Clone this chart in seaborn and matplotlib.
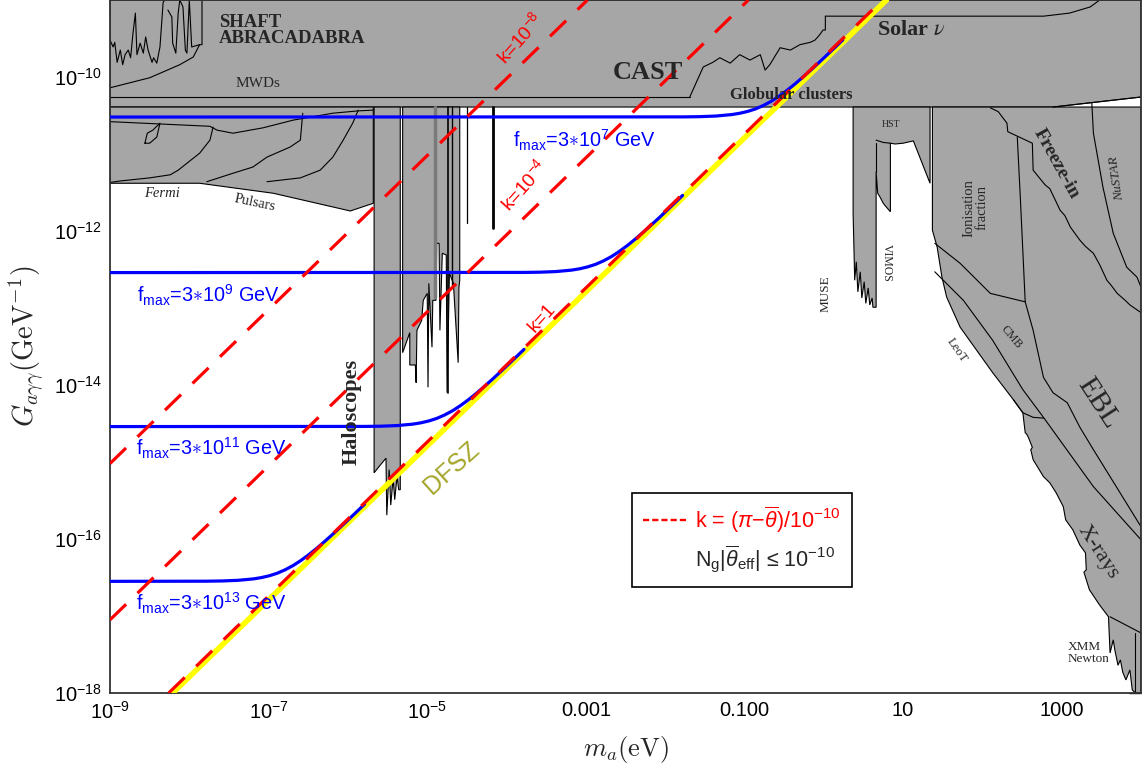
import numpy as np
import pandas as pd
import matplotlib
matplotlib.use('Agg')
import matplotlib.pyplot as plt
import seaborn as sns
from matplotlib.lines import Line2D
from matplotlib.ticker import FixedLocator, FixedFormatter, NullFormatter

sns.set_theme(style='white')
plt.rcParams['font.family'] = ['Liberation Sans', 'DejaVu Sans']
plt.rcParams['mathtext.fontset'] = 'custom'
plt.rcParams['mathtext.rm'] = 'Liberation Sans'
plt.rcParams['mathtext.it'] = 'Liberation Sans:italic'
plt.rcParams['mathtext.bf'] = 'Liberation Sans:bold'

# ---------------- data (log10 m_a [eV], log10 G [GeV^-1]) ----------------
x_ticks = [-9, -7, -5, -3, -1, 1, 3]
x_ticklabels = ['10$^{-9}$', '10$^{-7}$', '10$^{-5}$', '0.001', '0.100', '10', '1000']
y_ticks = [-10, -12, -14, -16, -18]
y_ticklabels = ['10$^{-10}$', '10$^{-12}$', '10$^{-14}$', '10$^{-16}$', '10$^{-18}$']

# straight lines: k lines and DFSZ
k_labels = ['k=10$^{-8}$', 'k=10$^{-4}$', 'k=1']
k_lm = [[-9.00, -2.98], [-9.00, -0.95], [-8.26, 0.74]]
k_lg = [[-15.02, -9.00], [-17.05, -9.00], [-18.00, -9.00]]
dfsz_lm = [-8.21, 0.79]
dfsz_lg = [-18.00, -9.00]

# f_max curves
fmax_labels = ['f$_{\\mathrm{max}}$=3$\\ast$10$^{7}$ GeV', 'f$_{\\mathrm{max}}$=3$\\ast$10$^{9}$ GeV',
               'f$_{\\mathrm{max}}$=3$\\ast$10$^{11}$ GeV', 'f$_{\\mathrm{max}}$=3$\\ast$10$^{13}$ GeV']
f7_lm = [-9.00, -1.76, -1.56, -1.36, -1.16, -1.06, -0.96, -0.86, -0.76, -0.66, -0.56, -0.46, -0.36, -0.26, -0.16, -0.06, 0.04, 0.14, 0.24]
f7_lg = [-10.52, -10.518, -10.515, -10.507, -10.488, -10.471, -10.447, -10.414, -10.369, -10.314, -10.247, -10.171, -10.088, -9.999, -9.907, -9.812, -9.715, -9.617, -9.518]
f9_lm = [-9.00, -3.78, -3.58, -3.38, -3.18, -3.08, -2.98, -2.88, -2.78, -2.68, -2.58, -2.48, -2.38, -2.28, -2.18, -2.08, -1.98, -1.88, -1.78]
f9_lg = [-12.54, -12.538, -12.535, -12.527, -12.508, -12.491, -12.467, -12.434, -12.389, -12.334, -12.267, -12.191, -12.108, -12.019, -11.927, -11.832, -11.735, -11.637, -11.538]
f11_lm = [-9.00, -5.78, -5.58, -5.38, -5.18, -5.08, -4.98, -4.88, -4.78, -4.68, -4.58, -4.48, -4.38, -4.28, -4.18, -4.08, -3.98, -3.88, -3.78]
f11_lg = [-14.54, -14.538, -14.535, -14.527, -14.508, -14.491, -14.467, -14.434, -14.389, -14.334, -14.267, -14.191, -14.108, -14.019, -13.927, -13.832, -13.735, -13.637, -13.538]
f13_lm = [-9.00, -7.79, -7.59, -7.39, -7.19, -7.09, -6.99, -6.89, -6.79, -6.69, -6.59, -6.49, -6.39, -6.29, -6.19, -6.09, -5.99, -5.89, -5.79]
f13_lg = [-16.55, -16.548, -16.545, -16.537, -16.518, -16.501, -16.477, -16.444, -16.399, -16.344, -16.277, -16.201, -16.118, -16.029, -15.937, -15.842, -15.745, -15.647, -15.548]

# excluded regions (polygons)
band_lm = [-9.00, 4.00, 4.00, 2.89, -9.00]
band_lg = [-9.00, -9.00, -10.26, -10.39, -10.39]
left_lm = [-9.00, -9.00, -7.87, -6.94, -5.97, -5.68, -5.68]
left_lg = [-10.39, -11.38, -11.38, -11.51, -11.74, -11.64, -10.39]
halo1_lm = [-5.67, -5.67, -5.60, -5.52, -5.51, -5.48, -5.46, -5.43, -5.41, -5.38, -5.36, -5.34, -5.34]
halo1_lg = [-10.39, -15.14, -15.05, -14.95, -15.69, -15.10, -15.56, -15.21, -15.49, -15.18, -15.36, -15.36, -10.39]
halo2_lm = [-5.31, -5.31, -5.22, -5.22, -5.15, -5.14, -5.13, -5.07, -5.05, -5.00, -4.99, -4.98, -4.94, -4.93, -4.89,
            -4.88, -4.85, -4.84, -4.81, -4.76, -4.75, -4.72, -4.67, -4.61, -4.60, -4.59, -4.59]
halo2_lg = [-10.39, -13.58, -13.32, -13.74, -13.74, -13.97, -13.29, -13.16, -12.90, -12.81, -14.03, -12.68, -13.51, -12.90, -12.90,
            -12.16, -12.16, -13.29, -12.29, -12.31, -14.10, -12.55, -12.68, -13.71, -12.73, -12.64, -10.39]
muse_lm = [0.37, 0.37, 0.39, 0.41, 0.43, 0.46, 0.48, 0.51, 0.53, 0.56, 0.58, 0.61, 0.62, 0.66, 0.66, 0.68, 0.71, 0.75, 0.79,
           0.84, 0.84, 0.90, 1.00, 1.13, 1.34, 1.34]
muse_lg = [-10.39, -11.77, -12.64, -12.40, -12.79, -12.53, -12.87, -12.66, -12.94, -12.74, -12.96, -12.87, -12.99, -12.99, -11.23,
           -11.51, -11.56, -11.64, -11.69, -11.75, -10.86, -10.87, -10.86, -10.83, -11.38, -10.39]
right_lm = [1.37, 4.00, 4.00, 3.93, 3.89, 3.86, 3.81, 3.77, 3.74, 3.71, 3.67, 3.65, 3.61, 3.59, 3.48, 3.35, 3.28, 3.31,
            3.30, 3.23, 3.14, 3.07, 3.05, 3.02, 2.93, 2.85, 2.77, 2.64, 2.61, 2.63, 2.58, 2.56, 2.54, 2.51, 2.39, 2.13,
            1.72, 1.55, 1.49, 1.43, 1.37]
right_lg = [-10.39, -10.39, -18.00, -18.00, -17.96, -17.70, -17.83, -17.73, -17.57, -17.64, -17.44, -17.31, -17.48, -17.01, -16.86,
            -16.66, -16.43, -16.40, -16.18, -16.08, -15.88, -15.78, -15.75, -15.58, -15.40, -15.27, -15.19, -14.97, -14.84, -14.81,
            -14.68, -14.64, -14.62, -14.36, -14.19, -13.84, -13.25, -12.86, -12.60, -12.21, -11.99]

# boundary curves drawn inside the shaded regions
lines_lm = {
    'abra1': [-9.00, -8.96, -8.94, -8.91, -8.87, -8.84, -8.81, -8.77, -8.74, -8.71, -8.68, -8.66, -8.62, -8.58, -8.55, -8.52, -8.47, -8.45, -8.41, -8.37, -8.33, -8.31],
    'abra2': [-8.27, -8.22, -8.21, -8.17, -8.14, -8.12, -8.08, -8.05, -8.03, -8.00, -7.97, -7.87],
    'mwd': [-9.00, -8.50, -8.12, -7.95, -7.87, -7.84, -7.84],
    'mwd_low': [-9.00, -1.69],
    'cast': [-1.69, -1.52, -1.40, -1.31, -1.18, -1.06, -0.93, -0.80, -0.74, -0.68, -0.55, -0.42, -0.30, -0.17, -0.11, -0.05, -0.01, 0.02, 0.02],
    'solar': [0.02, 2.77, 3.10, 3.36, 3.48],
    'glob': [2.89, 4.00],
    'fermiA': [-9.00, -7.74, -7.65, -7.45, -7.07, -6.69, -6.19, -5.87, -5.68],
    'fermiB': [-7.70, -7.74, -7.87, -8.03, -8.14, -8.24, -8.50, -8.87, -9.00],
    'fermiC': [-6.57, -6.60, -6.73, -7.02, -7.20, -7.45, -7.78],
    'fermiD': [-5.87, -5.94, -6.06, -6.19, -6.35, -6.60, -7.02],
    'loop': [-8.56, -8.53, -8.46, -8.37, -8.41, -8.50, -8.56],
    'hst': [0.66, 0.75, 0.84],
    'museR': [0.66, 0.66],
    'freeze': [2.10, 2.20, 2.31, 2.32, 2.63, 2.64, 2.79, 2.85, 2.92, 2.98, 3.04, 3.11, 3.23, 3.30, 3.40, 3.48, 3.57, 3.62, 3.70, 3.80, 3.86, 4.00],
    'nustar': [3.38, 3.40, 3.52, 3.65, 3.82, 3.95, 4.00],
    'ionA': [2.44, 2.48, 2.54, 2.64, 2.77, 2.89, 3.07, 3.23, 3.40, 4.00],
    'ionB': [1.40, 1.72, 2.10, 2.54],
    'cmb': [1.40, 1.76, 2.13, 2.51, 2.77, 3.40, 4.00],
    'leot': [2.39, 2.51, 2.64, 2.77],
    'xmm': [3.61, 4.00],
    'xmmv': [3.93, 3.93],
}
lines_lg = {
    'abra1': [-9.52, -9.61, -9.55, -9.81, -9.65, -9.84, -9.71, -9.65, -9.75, -9.43, -9.17, -9.71, -9.56, -9.69, -9.48, -9.65, -9.81, -9.75, -9.82, -9.61, -9.03, -9.00],
    'abra2': [-9.13, -9.22, -9.56, -9.69, -9.17, -9.00, -9.09, -9.65, -9.69, -9.00, -9.61, -9.58],
    'mwd': [-10.14, -10.01, -9.84, -9.74, -9.58, -9.58, -9.00],
    'mwd_low': [-10.26, -10.26],
    'cast': [-10.26, -9.87, -9.81, -9.75, -9.82, -9.71, -9.78, -9.71, -9.91, -9.84, -9.62, -9.65, -9.58, -9.55, -9.52, -9.45, -9.39, -9.39, -9.21],
    'solar': [-9.21, -9.21, -9.17, -9.09, -9.00],
    'glob': [-10.39, -10.26],
    'fermiA': [-10.58, -10.64, -10.69, -10.73, -10.66, -10.56, -10.47, -10.44, -10.43],
    'fermiB': [-10.65, -10.82, -10.99, -11.12, -11.21, -11.27, -11.31, -11.35, -11.37],
    'fermiC': [-10.47, -10.82, -10.91, -11.04, -11.17, -11.25, -11.36],
    'fermiD': [-10.43, -10.60, -10.82, -11.04, -11.21, -11.31, -11.36],
    'loop': [-10.86, -10.73, -10.69, -10.60, -10.78, -10.86, -10.86],
    'hst': [-10.82, -10.85, -10.86],
    'museR': [-10.86, -11.23],
    'freeze': [-10.40, -10.45, -10.60, -10.71, -10.86, -11.21, -11.40, -11.45, -11.60, -11.73, -11.80, -11.95, -12.12, -12.20, -12.29, -12.44, -12.64, -12.70, -12.81, -12.90, -12.96, -13.06],
    'nustar': [-10.34, -10.73, -11.43, -12.03, -12.47, -12.60, -12.73],
    'ionA': [-10.78, -11.60, -12.92, -13.29, -13.90, -14.10, -14.23, -14.55, -14.84, -15.84],
    'ionB': [-12.16, -12.42, -12.81, -12.92],
    'cmb': [-12.53, -12.90, -13.42, -14.06, -14.42, -15.32, -16.01],
    'leot': [-14.19, -14.36, -14.42, -14.43],
    'xmm': [-17.01, -17.22],
    'xmmv': [-17.22, -18.00],
}
# thin vertical haloscope lines (log m, top, bottom)
spike_lm = [-4.50, -4.17, -4.74, -4.69]
spike_top = [-10.39, -10.39, -10.39, -10.39]
spike_bot = [-11.90, -11.96, -14.10, -12.70]


def P(a):
    return 10.0 ** np.asarray(a, dtype=float)


GRAY = '#a6a6a6'
fig = plt.figure(figsize=(11.44, 7.69), dpi=100)
ax = fig.add_axes([110 / 1144, 76 / 769, 1031 / 1144, 693 / 769])
ax.set_xscale('log')
ax.set_yscale('log')
ax.set_xlim(1e-9, 1e4)
ax.set_ylim(1e-18, 1e-9)

for plm, plg in [(band_lm, band_lg), (left_lm, left_lg), (halo1_lm, halo1_lg), (halo2_lm, halo2_lg),
                 (muse_lm, muse_lg), (right_lm, right_lg)]:
    ax.fill(P(plm), P(plg), facecolor=GRAY, edgecolor='black', lw=0.8, zorder=1)

for key in lines_lm:
    ax.plot(P(lines_lm[key]), P(lines_lg[key]), color='black', lw=0.8, zorder=2)
for xm, t, b, w in zip(spike_lm, spike_top, spike_bot, [0.9, 2.0, 1.2, 1.0]):
    ax.plot(P([xm, xm]), P([t, b]), color='black', lw=w, zorder=2)
ax.plot(P([-4.90, -4.90]), P([-10.39, -12.86]), color='#7a7a7a', lw=2.5, zorder=2)

# DFSZ (yellow)
df_dfsz = pd.DataFrame({'m': P(dfsz_lm), 'G': P(dfsz_lg)})
sns.lineplot(data=df_dfsz, x='m', y='G', color='#ffff00', lw=4.0, ax=ax, zorder=3, legend=False)

# f_max curves (blue)
for lm_, lg_ in [(f7_lm, f7_lg), (f9_lm, f9_lg), (f11_lm, f11_lg), (f13_lm, f13_lg)]:
    d = pd.DataFrame({'m': P(lm_), 'G': P(lg_)})
    sns.lineplot(data=d, x='m', y='G', color='#0000ff', lw=2.3, ax=ax, zorder=4,
                 legend=False, estimator=None, sort=False)

# k lines (red dashed)
for lm_, lg_ in zip(k_lm, k_lg):
    ax.plot(P(lm_), P(lg_), color='#ff0000', lw=2.3, ls=(0, (7.0, 5.0)), zorder=5)

# ---------------- texts ----------------
serif = 'Liberation Serif'
def st(lm, lg, s, size, **kw):
    kw.setdefault('ha', 'center')
    kw.setdefault('va', 'center')
    ax.text(10 ** lm, 10 ** lg, s, fontsize=size, family=serif, zorder=6, **kw)

st(-7.63, -9.40, 'SHAFT\nABRACADABRA', 13.5, weight='bold', ha='left', linespacing=0.95)
st(-7.13, -10.08, 'MWDs', 11)
st(-2.22, -9.94, 'CAST', 19, weight='bold')
st(-0.41, -10.23, 'Globular clusters', 12, weight='bold')
ax.text(10 ** 1.10, 10 ** -9.39, 'Solar $\\nu$', fontsize=16, family=serif, weight='bold',
        math_fontfamily='stix', ha='center', va='center', zorder=6)
st(-8.34, -11.51, 'Fermi', 10.5, style='italic')
st(-7.18, -11.64, 'Pulsars', 10.5, rotation=-12)
st(-5.95, -14.35, 'Haloscopes', 16, weight='bold', rotation=90)
st(0.85, -10.62, 'HST', 7)
st(0.02, -12.81, 'MUSE', 9.5, rotation=90)
st(0.80, -12.42, 'VIMOS', 8.5, rotation=-90)
st(1.91, -11.70, 'Ionisation\nfraction', 10.5, rotation=90, linespacing=1.0)
st(2.93, -11.13, 'Freeze-in', 14, weight='bold', rotation=-61)
st(3.70, -11.31, 'NuSTAR', 9.5, style='italic', rotation=98)
st(2.36, -13.38, 'CMB', 8.5, rotation=-50)
st(1.68, -13.55, 'LeoT', 9, rotation=-55)
st(3.46, -14.23, 'EBL', 21, rotation=-57)
st(3.46, -16.17, 'X-rays', 16, rotation=-57)
st(3.07, -17.48, 'XMM\nNewton', 9.5, ha='left', linespacing=1.0)

blue_pos = [(-3.92, -10.82), (-8.66, -12.84), (-8.67, -14.82), (-8.67, -16.83)]
for (lm_, lg_), lab in zip(blue_pos, fmax_labels):
    ax.text(10 ** lm_, 10 ** lg_, lab, color='#0000ff', fontsize=14.3, ha='left', va='center', zorder=6)

k_pos = [(-3.83, -9.49), (-3.78, -11.40), (-3.55, -13.13)]
for (lm_, lg_), lab in zip(k_pos, k_labels):
    ax.text(10 ** lm_, 10 ** lg_, lab, color='#ff0000', fontsize=14, ha='center', va='center',
            rotation=48, rotation_mode='anchor', zorder=6)
ax.text(10 ** -4.69, 10 ** -15.08, 'DFSZ', color='#a5a52a', fontsize=18, ha='center', va='center',
        rotation=42, rotation_mode='anchor', zorder=6)

# legend
h1 = Line2D([0], [0], color='#ff0000', lw=1.7, ls=(0, (2.6, 1.3)))
h2 = Line2D([0], [0], color='none')
leg = ax.legend([h1, h2], ['k = ($\\pi$−$\\overline{\\theta}$)/10$^{-10}$',
                           'N$_{\\mathrm{g}}$|$\\overline{\\theta}_{\\mathrm{eff}}$| ≤ 10$^{-10}$'],
                loc='center', bbox_to_anchor=(0.613, 0.221), frameon=True, fancybox=False,
                edgecolor='black', framealpha=1, fontsize=15.5, handlelength=2.0, handletextpad=0.4,
                borderpad=0.55, labelspacing=0.4)
leg.get_frame().set_linewidth(1.2)
leg.get_texts()[0].set_color('#ff0000')
leg.set_zorder(10)

# axes, ticks
ax.xaxis.set_major_locator(FixedLocator(P(x_ticks)))
ax.xaxis.set_major_formatter(FixedFormatter(x_ticklabels))
ax.xaxis.set_minor_locator(FixedLocator(P([-8, -6, -4, -2, 0, 2])))
ax.xaxis.set_minor_formatter(NullFormatter())
ax.yaxis.set_major_locator(FixedLocator(P(y_ticks)))
ax.yaxis.set_major_formatter(FixedFormatter(y_ticklabels))
ax.yaxis.set_minor_locator(FixedLocator(P([-11, -13, -15, -17])))
ax.yaxis.set_minor_formatter(NullFormatter())
ax.tick_params(which='major', direction='in', length=9, width=1.0, top=True, right=True,
               labelsize=14.5, pad=6, colors='black')
ax.tick_params(which='minor', direction='in', length=5, width=1.0, top=True, right=True)
for sp in ax.spines.values():
    sp.set_color('#333333')
    sp.set_linewidth(1.3)

ax.set_xlabel('$m_a(\\mathrm{eV})$', fontsize=19, math_fontfamily='cm', labelpad=8)
ax.set_ylabel('$G_{a\\gamma\\gamma}(\\mathrm{GeV}^{-1})$', fontsize=20.5, math_fontfamily='cm', labelpad=5)

fig.savefig('out.png', dpi=100)
